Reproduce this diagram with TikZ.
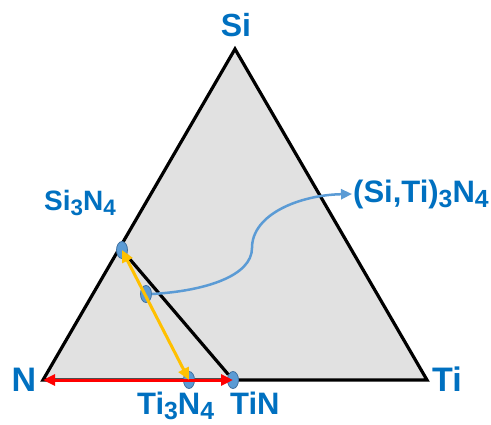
\documentclass[tikz,border=0pt]{standalone}
\usepackage{fontspec}
\usepackage{graphicx}
\setmainfont{Liberation Sans}
\usetikzlibrary{arrows.meta,shapes.geometric}
\definecolor{labelblue}{RGB}{0,112,192}
\definecolor{dotfill}{RGB}{91,155,213}
\definecolor{dotedge}{RGB}{65,113,160}
\definecolor{fieldgray}{RGB}{225,225,225}
\definecolor{tieyellow}{RGB}{255,192,0}
\newcommand{\chemsub}[1]{\raisebox{-0.18em}{\scalebox{0.8}{#1}}}

\begin{document}
\begin{tikzpicture}[x=1pt,y=-1pt,
  corner/.style={text=labelblue,font=\fontsize{34}{38}\selectfont\bfseries,inner sep=0pt},
  phase/.style={text=labelblue,font=\fontsize{31}{34}\selectfont\bfseries,inner sep=0pt,anchor=base west},
  phasedot/.style={ellipse,draw=dotedge,fill=dotfill,line width=0.8pt,minimum width=11pt,minimum height=17pt,inner sep=0pt},
  tip/.style={-{Triangle[length=11pt,width=10pt]}},
  tips/.style={{Triangle[length=12pt,width=11pt]}-{Triangle[length=12pt,width=11pt]}}]
\useasboundingbox (0,0) rectangle (491,424);
% corners of the triangle
\coordinate (Si) at (235,49);
\coordinate (N) at (43,380);
\coordinate (Ti) at (427,380);
\draw[fill=fieldgray,line width=3.2pt,line join=miter] (Si)--(N)--(Ti)--cycle;
\node[corner,font=\fontsize{32}{36}\selectfont\bfseries] (lSi) at (236,25) {Si};
\node[corner] (lN) at (24,380) {N};
\node[corner] (lTi) at (447,379) {Ti};
% phases
\node[phasedot] (si3n4) at (122,250) {};
\node[phasedot] (mix) at (146,294) {};
\node[phasedot] (ti3n4) at (189,380) {};
\node[phasedot] (tin) at (233,380) {};
\draw[line width=3.2pt] (si3n4)--(tin);
\node[phase,font=\fontsize{28}{30}\selectfont\bfseries] (lsi3n4) at (44,210) {Si\chemsub{3}N\chemsub{4}};
\node[phase] (lti3n4) at (137,414) {Ti\chemsub{3}N\chemsub{4}};
\node[phase] (ltin) at (230,414) {TiN};
\node[phase] (lsiti) at (353,202) {(Si,Ti)\chemsub{3}N\chemsub{4}};
% tie lines
\draw[red,line width=3pt,tips] (N)--(tin.center);
\draw[tieyellow,line width=3pt,tips] (si3n4.center)--(ti3n4.center);
\draw[dotfill,line width=2.5pt,tip] (mix.east) .. controls (205,291) and (252,276) .. (252,248)
  .. controls (252,214) and (300,195) .. ([xshift=-1pt]lsiti.west);
\end{tikzpicture}
\end{document}
